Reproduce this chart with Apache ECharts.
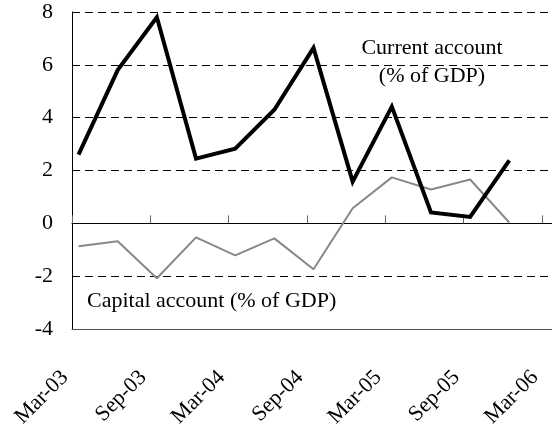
<!DOCTYPE html>
<html>
<head>
<meta charset="utf-8">
<script src="https://cdn.jsdelivr.net/npm/echarts@6/dist/echarts.min.js"></script>
<style>
  html, body { margin: 0; padding: 0; background: #fff; }
  #chart { width: 552px; height: 426px; }
</style>
</head>
<body>
<div id="chart"></div>
<script>
    // months after Mar-03 at which each quarterly point sits
    var months = [0.5, 3.5, 6.5, 9.5, 12.5, 15.5, 18.5, 21.5, 24.5, 27.5, 30.5, 33.5];
    var currentAccount = [2.6, 5.8, 7.8, 2.45, 2.83, 4.3, 6.64, 1.58, 4.42, 0.41, 0.24, 2.38];   // % of GDP
    var capitalAccount = [-0.87, -0.68, -2.08, -0.53, -1.21, -0.57, -1.74, 0.57, 1.74, 1.28, 1.66, 0.03];
    var tickLabels = ['Mar-03', 'Sep-03', 'Mar-04', 'Sep-04', 'Mar-05', 'Sep-05', 'Mar-06'];   // every 6 months

    function pairs(ys) {
        var out = [];
        for (var i = 0; i < ys.length; i++) out.push([months[i], ys[i]]);
        return out;
    }

    var font = 'Liberation Serif';
    var myChart = echarts.init(document.getElementById('chart'));

    var option = {
        animation: false,
        grid: { left: 72, top: 12, right: 0, bottom: 97, outerBoundsMode: 'none', containLabel: false },
        xAxis: [
            {
                // bottom axis, labels only
                type: 'value', min: 0, max: 36.77, interval: 6,
                position: 'bottom',
                axisLine: { onZero: false, show: true, lineStyle: { color: '#555', width: 1 } },
                axisTick: { show: false },
                splitLine: { show: false },
                axisLabel: {
                    rotate: 45, margin: 38, padding: [0, 10, 0, 0],
                    fontFamily: font, fontSize: 22, color: '#000',
                    showMaxLabel: true,
                    formatter: function (v) {
                        return v % 6 === 0 ? tickLabels[v / 6] : '';
                    }
                }
            },
            {
                // zero line with the tick marks
                type: 'value', min: 0, max: 36.77, interval: 6,
                position: 'bottom',
                axisLine: { onZero: true, show: true, lineStyle: { color: '#000', width: 1 } },
                axisTick: { show: true, inside: true, length: 8, lineStyle: { color: '#666', width: 1 } },
                axisLabel: { show: false },
                splitLine: { show: false }
            }
        ],
        yAxis: {
            type: 'value', min: -4, max: 8, interval: 2,
            axisLine: { show: true, lineStyle: { color: '#000', width: 1 } },
            axisTick: { show: false },
            axisLabel: { margin: 19, fontFamily: font, fontSize: 22, color: '#000' },
            splitLine: { show: true, lineStyle: { color: '#000', type: [8, 5], width: 1 } }
        },
        graphic: [
            { type: 'text', x: 432, y: 48, style: { text: 'Current account', font: '22px "Liberation Serif"', fill: '#000', align: 'center', verticalAlign: 'middle' } },
            { type: 'text', x: 432, y: 76, style: { text: '(% of GDP)', font: '22px "Liberation Serif"', fill: '#000', align: 'center', verticalAlign: 'middle' } },
            { type: 'text', x: 87, y: 301, style: { text: 'Capital account (% of GDP)', font: '22px "Liberation Serif"', fill: '#000', verticalAlign: 'middle' } }
        ],
        series: [
            {
                name: 'Capital account', type: 'line', xAxisIndex: 0,
                data: pairs(capitalAccount),
                symbol: 'none',
                lineStyle: { color: '#888', width: 2 }
            },
            {
                name: 'Current account', type: 'line', xAxisIndex: 0,
                data: pairs(currentAccount),
                symbol: 'none',
                lineStyle: { color: '#000', width: 4, join: 'miter' }
            }
        ]
    };

    myChart.setOption(option);
</script>
</body>
</html>
